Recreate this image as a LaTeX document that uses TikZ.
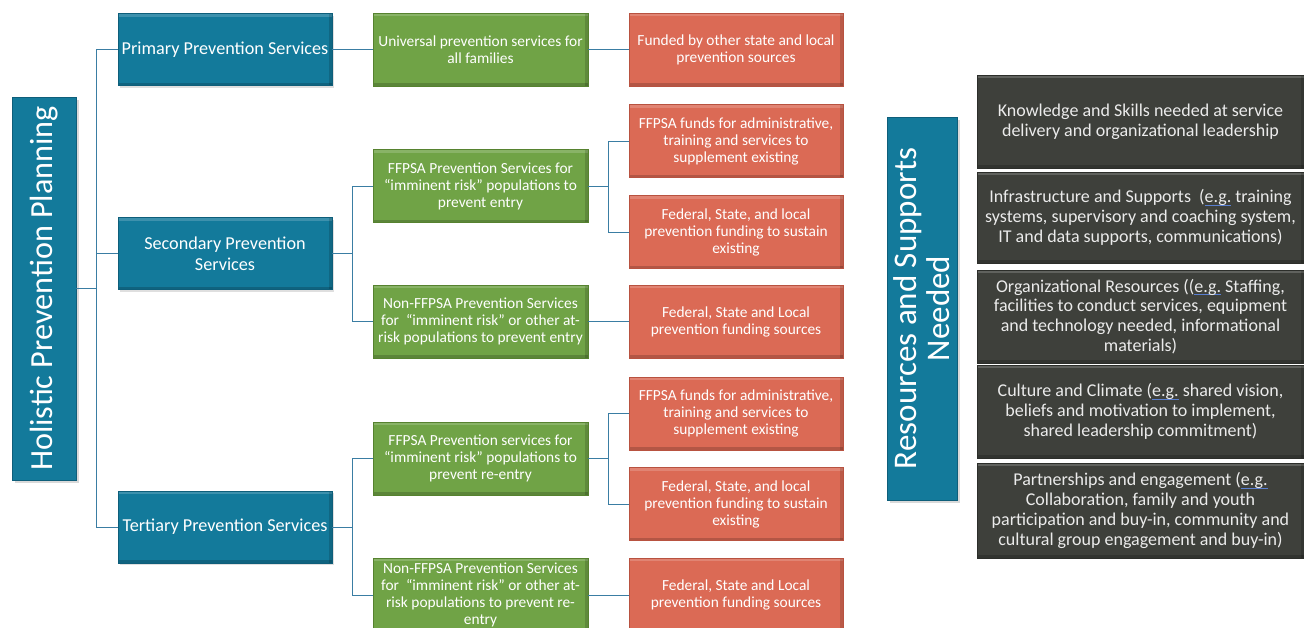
\documentclass[tikz,border=0pt]{standalone}
\usepackage{fontspec}
\setmainfont{Carlito}
\usetikzlibrary{shadows}

\definecolor{tealbox}{HTML}{137A9B}
\definecolor{tealedge}{HTML}{0E5E7A}
\definecolor{greenbox}{HTML}{70A346}
\definecolor{greenedge}{HTML}{56822F}
\definecolor{redbox}{HTML}{DB6A55}
\definecolor{rededge}{HTML}{B85240}
\definecolor{greybox}{HTML}{3E403B}
\definecolor{greyedge}{HTML}{2C2E2A}
\definecolor{linkline}{HTML}{3A7DA3}
\definecolor{spellblue}{HTML}{5A7FD0}

% thin blue underline used on "e.g."
\newcommand\egline[1]{\setbox0\hbox{#1}\leavevmode\rlap{\textcolor{spellblue}{\rule[-2.5pt]{\wd0}{0.8pt}}}\box0\relax}

\tikzset{
  basebox/.style={rectangle, inner sep=2pt, align=center, text=white,
    path picture={
      \fill[white,opacity=0.18] (path picture bounding box.north west) rectangle ([yshift=-3pt]path picture bounding box.north east);
      \fill[black,opacity=0.18] (path picture bounding box.south west) rectangle ([yshift=3pt]path picture bounding box.south east);
      \fill[black,opacity=0.15] ([xshift=-3pt]path picture bounding box.south east) rectangle (path picture bounding box.north east);
    }},
  tealnode/.style={basebox, fill=tealbox, draw=tealedge, line width=0.6pt,
    drop shadow={opacity=0.25, shadow xshift=2pt, shadow yshift=-2pt},
    minimum width=214pt, minimum height=72pt, font=\fontsize{18.2}{21}\selectfont},
  greennode/.style={basebox, fill=greenbox, draw=greenedge, line width=0.6pt,
    minimum width=215pt, minimum height=73pt, font=\fontsize{15.4}{17}\selectfont},
  rednode/.style={basebox, fill=redbox, draw=rededge, line width=0.6pt,
    minimum width=214pt, minimum height=73pt, font=\fontsize{15.4}{17}\selectfont},
  greynode/.style={basebox, fill=greybox, draw=greyedge, line width=0.6pt,
    text=white!92!black, minimum width=327pt, font=\fontsize{18}{19.8}\selectfont},
  bignode/.style={basebox, fill=tealbox, draw=tealedge, line width=0.6pt,
    drop shadow={opacity=0.3, shadow xshift=3pt, shadow yshift=-3pt},
    rotate=90},
  link/.style={draw=linkline, line width=1pt},
}

\begin{document}
\begin{tikzpicture}[x=1pt, y=-1pt]
\useasboundingbox (0,0) rectangle (1304,627);
\clip (0,0) rectangle (1304,627);

% ---- left column: planning tree ----
\node[bignode, minimum width=383pt, minimum height=64pt,
      font=\fontsize{32.2}{34}\selectfont] (hp) at (44,288.5) {Holistic Prevention Planning};

\node[tealnode] (p1) at (225,49.5) {Primary Prevention Services};
\node[tealnode] (p2) at (225,253.5) {Secondary Prevention\\Services};
\node[tealnode] (p3) at (225,527) {Tertiary Prevention Services};

\node[greennode] (g1) at (480.5,49.5) {Universal prevention services for\\all families};
\node[greennode] (g2) at (480.5,186) {FFPSA Prevention Services for\\``imminent risk'' populations to\\prevent entry};
\node[greennode] (g3) at (480.5,321.5) {Non-FFPSA Prevention Services\\for\ \ ``imminent risk'' or other at-\\risk populations to prevent entry};
\node[greennode] (g4) at (480.5,458.5) {FFPSA Prevention services for\\``imminent risk'' populations to\\prevent re-entry};
\node[greennode, minimum height=74pt] (g5) at (480.5,595) {Non-FFPSA Prevention Services\\for\ \ ``imminent risk'' or other at-\\risk populations to prevent re-\\entry};

\node[rednode] (r1) at (736,49.5) {Funded by other state and local\\prevention sources};
\node[rednode] (r2) at (736,141) {FFPSA funds for administrative,\\training and services to\\supplement existing};
\node[rednode] (r3) at (736,232) {Federal, State, and local\\prevention funding to sustain\\existing};
\node[rednode] (r4) at (736,321.5) {Federal, State and Local\\prevention funding sources};
\node[rednode] (r5) at (736,413.5) {FFPSA funds for administrative,\\training and services to\\supplement existing};
\node[rednode] (r6) at (736,504) {Federal, State, and local\\prevention funding to sustain\\existing};
\node[rednode, minimum height=74pt] (r7) at (736,595) {Federal, State and Local\\prevention funding sources};

% connectors
\draw[link] (hp.south) -- ++(21,0);
\draw[link] (p1.west) -- ++(-21,0) |- (p3.west);
\draw[link] (p2.west) -- ++(-21,0);

\draw[link] (p1.east) -- (g1.west);
\draw[link] (g1.east) -- (r1.west);

\draw[link] (p2.east) -- ++(21,0);
\draw[link] (g2.west) -- ++(-20,0) |- (g3.west);
\draw[link] (g2.east) -- ++(21,0);
\draw[link] (r2.west) -- ++(-20,0) |- (r3.west);
\draw[link] (g3.east) -- (r4.west);

\draw[link] (p3.east) -- ++(21,0);
\draw[link] (g4.west) -- ++(-20,0) |- (g5.west);
\draw[link] (g4.east) -- ++(21,0);
\draw[link] (r5.west) -- ++(-20,0) |- (r6.west);
\draw[link] (g5.east) -- (r7.west);

% ---- right column: resources ----
\node[bignode, minimum width=383pt, minimum height=70pt,
      font=\fontsize{33}{33}\selectfont] (rs) at (922,308.5) {Resources and Supports\\Needed};

\node[greynode, minimum height=93pt] (k1) at (1140.5,121.5)
  {Knowledge and Skills needed at service\\delivery and organizational leadership};
\node[greynode, minimum height=91pt] (k2) at (1140.5,217.5)
  {Infrastructure and Supports\ \ (\egline{e.g.} training\\systems, supervisory and coaching system,\\IT and data supports, communications)};
\node[greynode, minimum height=93pt] (k3) at (1140.5,316.5)
  {Organizational Resources ((\egline{e.g.} Staffing,\\facilities to conduct services, equipment\\and technology needed, informational\\materials)};
\node[greynode, minimum height=93pt] (k4) at (1140.5,411.5)
  {Culture and Climate (\egline{e.g.} shared vision,\\beliefs and motivation to implement,\\shared leadership commitment)};
\node[greynode, minimum height=95pt] (k5) at (1140.5,510.5)
  {Partnerships and engagement (\egline{e.g.}\\Collaboration, family and youth\\participation and buy-in, community and\\cultural group engagement and buy-in)};
\end{tikzpicture}
\end{document}
